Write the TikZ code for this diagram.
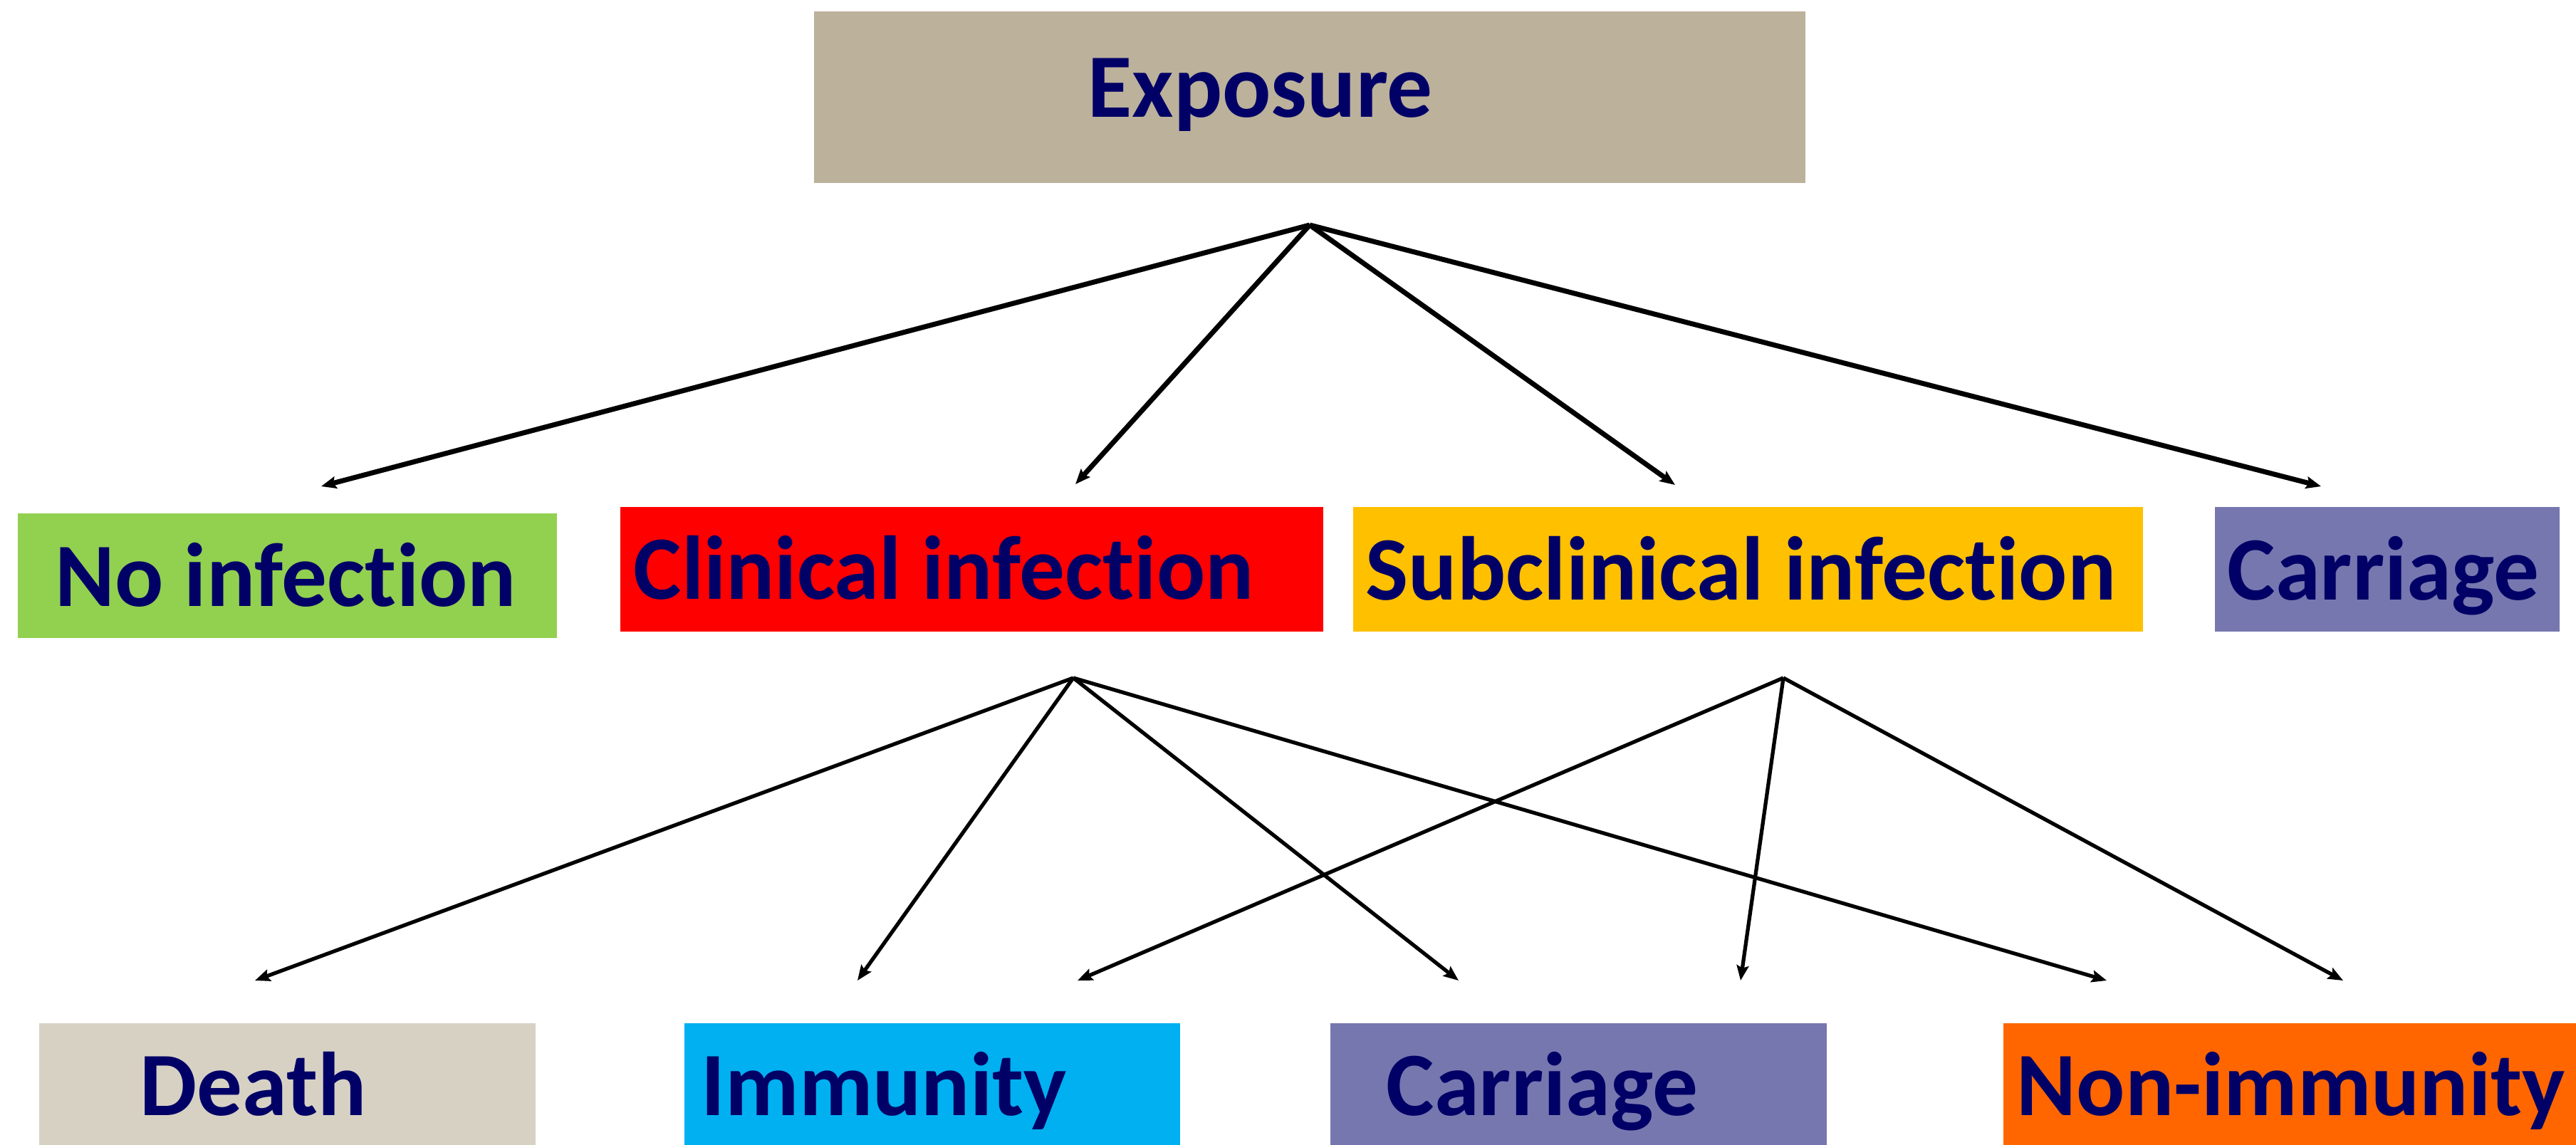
\documentclass[tikz,border=0pt]{standalone}
\usepackage{fontspec}
\setmainfont{Carlito}[Ligatures=NoCommon]
\usetikzlibrary{arrows.meta}
\definecolor{cexpo}{RGB}{188,177,155}
\definecolor{cnoinf}{RGB}{146,208,80}
\definecolor{cclin}{RGB}{255,0,0}
\definecolor{csubc}{RGB}{255,192,0}
\definecolor{ccarr}{RGB}{118,119,175}
\definecolor{cdeath}{RGB}{215,209,196}
\definecolor{cimmu}{RGB}{0,176,240}
\definecolor{cnonimm}{RGB}{255,102,0}
\definecolor{ctxt}{RGB}{0,0,102}

\begin{document}
\begin{tikzpicture}[>={Stealth[length=6pt, width=4.8pt, inset=1pt]},
    box/.style={inner sep=0pt, minimum height=1.75cm},
    lowbox/.style={inner sep=0pt, minimum height=1.71cm},
    txt/.style={anchor=base west, inner sep=0pt, text=ctxt, font=\fontsize{36.2}{40}\selectfont\bfseries},
    toparr/.style={->, line width=2pt},
    lowarr/.style={->, line width=1.5pt}]

  \useasboundingbox (0,0) rectangle (36.17,-16.08);

  % boxes
  \node[box, fill=cexpo, minimum width=13.92cm, minimum height=2.41cm] (expo) at (18.39,-1.365) {};
  \node[box, fill=cnoinf, minimum width=7.57cm] (noinf) at (4.035,-8.085) {};
  \node[box, fill=cclin, minimum width=9.87cm] (clin) at (13.645,-7.995) {};
  \node[box, fill=csubc, minimum width=11.09cm] (subc) at (24.545,-7.995) {};
  \node[box, fill=ccarr, minimum width=4.84cm] (carr1) at (33.52,-7.995) {};
  \node[lowbox, fill=cdeath, minimum width=6.97cm] (death) at (4.035,-15.225) {};
  \node[lowbox, fill=cimmu, minimum width=6.96cm] (immu) at (13.09,-15.225) {};
  \node[lowbox, fill=ccarr, minimum width=6.97cm] (carr2) at (22.165,-15.225) {};
  \node[lowbox, fill=cnonimm, minimum width=8.04cm] (nonimm) at (32.15,-15.225) {};

  % labels
  \node[txt] (expo-t) at (15.27,-1.65) {Exposure};
  \node[txt] (noinf-t) at (0.77,-8.51) {No infection};
  \node[txt] (clin-t) at (8.89,-8.41) {Clinical infection};
  \node[txt] (subc-t) at (19.17,-8.42) {Subclinical infection};
  \node[txt] (carr1-t) at (31.27,-8.42) {Carriage};
  \node[txt] (death-t) at (1.96,-15.66) {Death};
  \node[txt] (immu-t) at (9.84,-15.66) {Immunity};
  \node[txt] (carr2-t) at (19.46,-15.66) {Carriage};
  \node[txt] (nonimm-t) at (28.31,-15.66) {Non-immunity};

  % split points and arrow ends
  \coordinate (expo-split) at (18.39,-3.16);
  \coordinate (clin-split) at (15.07,-9.52);
  \coordinate (subc-split) at (25.04,-9.52);
  \coordinate (noinf-in) at (4.51,-6.83);
  \coordinate (clin-in) at (15.10,-6.80);
  \coordinate (subc-in) at (23.52,-6.81);
  \coordinate (carr1-in) at (32.59,-6.83);
  \coordinate (death-in) at (3.58,-13.77);
  \coordinate (immu-in-a) at (12.04,-13.77);
  \coordinate (immu-in-b) at (15.13,-13.77);
  \coordinate (carr2-in-a) at (20.48,-13.77);
  \coordinate (carr2-in-b) at (24.44,-13.77);
  \coordinate (nonimm-in-a) at (29.58,-13.77);
  \coordinate (nonimm-in-b) at (32.90,-13.77);

  % exposure outcomes
  \foreach \t in {noinf-in, clin-in, subc-in, carr1-in}
    \draw[toparr] (expo-split) -- (\t);

  % after clinical / subclinical infection
  \foreach \t in {death-in, immu-in-a, carr2-in-a, nonimm-in-a}
    \draw[lowarr] (clin-split) -- (\t);
  \foreach \t in {immu-in-b, carr2-in-b, nonimm-in-b}
    \draw[lowarr] (subc-split) -- (\t);
\end{tikzpicture}
\end{document}
